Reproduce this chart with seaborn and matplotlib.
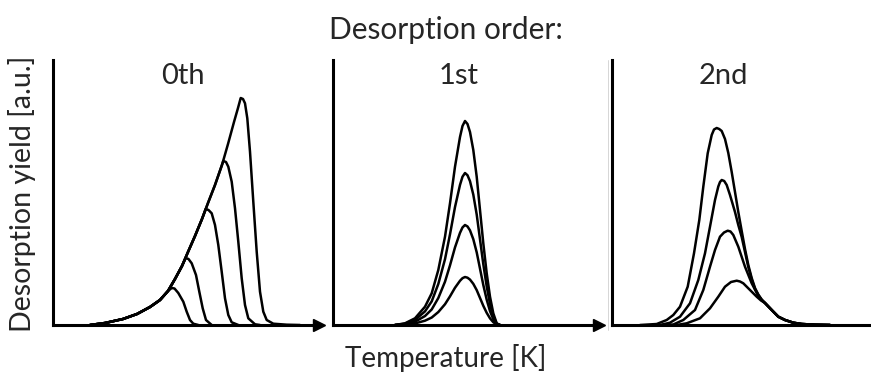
import numpy as np
import pandas as pd
import matplotlib
matplotlib.use("Agg")
import matplotlib.pyplot as plt
from matplotlib.lines import Line2D
import seaborn as sns

# ---- zeroth order: common leading edge, then one falling edge per coverage ----
zero_edge_T = [37, 52, 70, 84, 97, 107, 115, 122, 129, 135, 142, 149, 155, 162, 169, 175, 181, 185, 187.7]
zero_edge_Y = [0, 2, 6, 11, 18, 25, 34, 46, 59, 73, 89, 106, 122, 140, 160, 181, 203, 217, 227]

zero_fall_T = [
    [118.7, 121.5, 125.3, 130.3, 133.7, 137, 140.3, 145.3],
    [132.7, 135.5, 138.7, 143, 146.3, 149.7, 153, 158.7],
    [152.7, 155.5, 158.7, 162, 165.3, 168.7, 172, 175.3, 178.7, 185.3],
    [170.3, 173, 175.3, 178.7, 182, 185.3, 188.7, 192, 195.3, 202, 207],
    [187.7, 190, 192, 194.3, 197, 200.3, 203.7, 207, 210.3, 213.7, 220.3, 233.7, 247],
]
zero_fall_Y = [
    [37, 36.5, 32, 23.3, 13.3, 5, 1.3, 0],
    [67, 66, 61.7, 50, 33.3, 16.7, 5, 0],
    [116, 115, 111.7, 100, 80, 53.3, 26.7, 10, 2.7, 0],
    [164, 163, 158.3, 143.3, 116.7, 83.3, 46.7, 20, 6.7, 0.7, 0],
    [227, 226, 221.7, 206.7, 173.3, 123.3, 73.3, 33.3, 13.3, 5, 1.3, 0.3, 0],
]

# ---- first order: one peak profile, scaled to each peak height ----
first_T = [62, 72, 82, 92, 98.7, 105.3, 112, 117, 122, 127, 129.5, 132, 134.5,
           137, 140.3, 143.7, 147, 150.3, 153.7, 157, 160.3, 163.7, 167]
first_profile = [0, 1.7, 6.7, 18.3, 31.7, 55, 88.3, 121.7, 158.3, 188, 199, 204, 201,
                 193, 175, 148.3, 115, 81.7, 51.7, 28.3, 11.7, 1.7, 0]
first_peaks = [204, 152, 100, 48]

# ---- second order: four curves sharing a high-temperature tail ----
second_T = [
    [28, 44.7, 54.7, 61.3, 68, 75.7, 82, 87.3, 91.3, 95.7, 99.7, 102, 104.7, 107.2, 109.7,
     113, 116.3, 119.7, 123, 126.3, 129.7, 133, 136.3, 139.7, 143, 146.3, 149.7, 153],
    [48, 58, 68, 78, 86.3, 93, 98, 103, 106.3, 108, 109.7, 112.2, 114.7, 118, 123, 126.3,
     129.7, 133, 136.3, 139.7, 143, 146.3, 149.7, 153],
    [50, 61.3, 71.3, 83, 91.3, 98, 103, 108, 112, 115.7, 118.5, 121.3, 126.3, 133, 139.7,
     146.3, 149.7, 153],
    [64.7, 74.7, 88, 98, 106.3, 113, 119, 124.7, 128, 131.3, 138, 144.7, 149, 153],
]
second_Y = [
    [0, 1, 5, 10, 18.3, 38.3, 71.7, 105, 138.3, 171.7, 190, 195.5, 197, 196, 194,
     186, 172, 153, 133, 113, 94, 76, 60, 47, 37, 30.5, 25.5, 22],
    [0, 2.3, 8.3, 21.7, 45, 71.7, 98.3, 125, 138.5, 143, 145, 144, 140, 130, 113, 100,
     88, 73, 58, 45.5, 36, 30, 25, 22],
    [0, 0.5, 5, 15, 35, 58.3, 75, 88.3, 92.5, 94.3, 93.5, 90, 78.3, 58.3, 41.7,
     29, 25, 22],
    [0, 1.7, 6.7, 16.7, 28.3, 38.3, 43, 44.3, 43.5, 41.7, 35, 28.3, 24.5, 22],
]
second_tail_T = [159.7, 166.3, 173, 181.3, 189.7, 203, 218]
second_tail_Y = [15, 8.3, 5, 2.3, 1, 0.3, 0]

orders = ["0th", "1st", "2nd"]


def zero_order_frame():
    rows = []
    edge_T = np.array(zero_edge_T)
    edge_Y = np.array(zero_edge_Y)
    for i, (ft, fy) in enumerate(zip(zero_fall_T, zero_fall_Y)):
        keep = edge_T < ft[0] - 1.5
        T = list(edge_T[keep]) + ft
        Y = list(edge_Y[keep]) + fy
        rows.append(pd.DataFrame({"T": T, "Y": Y, "curve": i}))
    return pd.concat(rows, ignore_index=True)


def first_order_frame():
    rows = []
    prof = np.array(first_profile)
    for i, pk in enumerate(first_peaks):
        rows.append(pd.DataFrame({"T": first_T, "Y": prof * pk / prof.max(), "curve": i}))
    return pd.concat(rows, ignore_index=True)


def second_order_frame():
    rows = []
    for i, (t, y) in enumerate(zip(second_T, second_Y)):
        rows.append(pd.DataFrame({"T": t + second_tail_T, "Y": y + second_tail_Y, "curve": i}))
    return pd.concat(rows, ignore_index=True)


frames = [zero_order_frame(), first_order_frame(), second_order_frame()]

sns.set_theme(style="white")
plt.rcParams["font.family"] = ["Lato", "DejaVu Sans"]

W, H = 871, 378
fig = plt.figure(figsize=(W / 100, H / 100), dpi=100)

# panel placement in pixels: (left, right), shared top/bottom
panel_px = [(53, 319), (333, 599), (612, 880)]
top_px, bottom_px = 60, 325
label_x_px = [183, 459, 723]

for k, ((l, r), df) in enumerate(zip(panel_px, frames)):
    ax = fig.add_axes([l / W, (H - bottom_px) / H, (r - l) / W, (bottom_px - top_px) / H])
    sns.lineplot(data=df, x="T", y="Y", units="curve", estimator=None, sort=False,
                 color="black", linewidth=1.8, ax=ax, legend=False)
    ax.set_xlim(0, r - l)
    ax.set_ylim(0, bottom_px - top_px)
    ax.set_xticks([])
    ax.set_yticks([])
    ax.set_xlabel("")
    ax.set_ylabel("")
    for side in ("top", "right"):
        ax.spines[side].set_visible(False)
    for side in ("left", "bottom"):
        ax.spines[side].set_visible(True)
        ax.spines[side].set_color("black")
        ax.spines[side].set_linewidth(2.2)
    ax.plot(1, 0, marker=">", color="black", markersize=9,
            transform=ax.get_yaxis_transform(), clip_on=False)
    fig.text(label_x_px[k] / W, 1 - 76 / H, orders[k], ha="center", va="center", fontsize=21)

fig.add_artist(Line2D([608 / W, 608 / W], [1 - 330 / H, 1 - 60 / H], color="#d0d0d0",
                      linewidth=0.6, transform=fig.transFigure))

fig.text(446 / W, 1 - 30 / H, "Desorption order:", ha="center", va="center", fontsize=21.5)
fig.text(446 / W, 1 - 358 / H, "Temperature [K]", ha="center", va="center", fontsize=20)
fig.text(22 / W, 1 - 194 / H, "Desorption yield [a.u.]", ha="center", va="center",
         rotation=90, fontsize=20.5)

fig.savefig("out.png", dpi=100, facecolor="white")
